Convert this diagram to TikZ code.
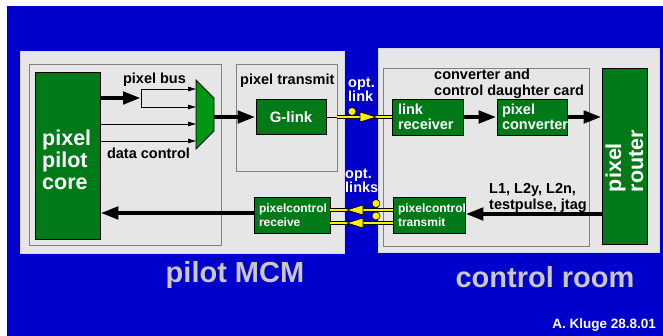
\documentclass[tikz,border=0pt]{standalone}
\usepackage{fontspec}
\setmainfont{Liberation Sans}
\usetikzlibrary{arrows.meta}
\definecolor{bgblue}{RGB}{0,0,204}
\definecolor{panelgrey}{RGB}{230,230,230}
\definecolor{panelrim}{RGB}{215,215,245}
\definecolor{boxgreen}{RGB}{0,122,25}
\definecolor{muxgreen}{RGB}{0,150,20}
\definecolor{linegrey}{RGB}{128,128,128}
\definecolor{titlegrey}{RGB}{200,200,200}
\definecolor{optyellow}{RGB}{255,240,0}
\begin{document}
\begin{tikzpicture}[x=1pt,y=-1pt,
  panel/.style={fill=panelgrey, draw=panelrim, line width=0.8pt},
  frame/.style={draw=linegrey, line width=0.8pt},
  gbox/.style={draw=black, fill=boxgreen, line width=0.8pt, inner sep=0pt},
  gtext/.style={text=white, font=\bfseries\fontsize{14.5}{15}\selectfont, align=left},
  stext/.style={text=white, font=\bfseries\fontsize{12}{13.5}\selectfont, align=left},
  bigtext/.style={text=white, font=\bfseries\fontsize{21.5}{22}\selectfont, align=left, inner sep=0pt},
  lbl/.style={text=black, font=\bfseries\fontsize{14.5}{15.5}\selectfont, align=left, inner sep=0pt},
  wlbl/.style={text=white, font=\bfseries\fontsize{14.5}{14.5}\selectfont, align=left, inner sep=0pt},
  title/.style={text=titlegrey, font=\bfseries\fontsize{29}{30}\selectfont, inner sep=0pt},
  bigarrow/.style={draw=black, line width=4.5pt, -{Triangle[length=18pt,width=12pt]}},
  smallarrow/.style={draw=black, line width=0.8pt, -{Triangle[length=8pt,width=4.5pt]}},
  thinline/.style={draw=black, line width=0.8pt},
  optline/.style={draw=black, line width=0.6pt, double=optyellow, double distance=2.6pt},
  opthead/.style={fill=optyellow, draw=black, line width=0.6pt},
]
\useasboundingbox (0,0) rectangle (663,336);
\fill[white] (0,0) rectangle (663,336);
\fill[bgblue] (7,6) rectangle (663,336);

% panels and frames
\path[panel] (20,51) rectangle (344,253);
\path[panel] (378,48) rectangle (659,252);
\path[frame] (29,64) rectangle (221,245);
\path[frame] (236,64) rectangle (337,171);
\path[frame] (383,68) rectangle (589,246);

% green boxes
\node[gbox, minimum width=65pt, minimum height=167pt] (core) at (67.5,155.5) {};
\node[bigtext, anchor=west] (coretext) at (42,160) {pixel\\pilot\\core};
\node[gbox, minimum width=70pt, minimum height=35pt] (glink) at (291,117)
  {\color{white}\bfseries\fontsize{15}{16}\selectfont G-link};
\node[gbox, minimum width=76pt, minimum height=36pt, text width=66pt, stext] (pcr) at (292,215)
  {pixelcontrol\\receive};
\node[gbox, minimum width=71pt, minimum height=36pt, text width=59pt, gtext] (lr) at (427.5,117)
  {link\\receiver};
\node[gbox, minimum width=70pt, minimum height=36pt, text width=60pt, gtext] (pc) at (532,117)
  {pixel\\converter};
\node[gbox, minimum width=72pt, minimum height=36pt, text width=62pt, stext] (pct) at (429,215)
  {pixelcontrol\\transmit};
\node[gbox, minimum width=45pt, minimum height=176pt] (router) at (624.5,156) {};
\node[bigtext, rotate=90] (routertext) at (624.5,161) {pixel\\router};

% multiplexer
\filldraw[fill=muxgreen, draw=black, line width=0.8pt]
  (196,80) -- (214,98) -- (214,131) -- (196,149) -- cycle;
\coordinate (muxin) at (196,115);
\coordinate (muxout) at (214,117);

% labels
\node[lbl] (busl) at (154.5,80) {pixel bus};
\node[lbl] (dcl) at (148.5,153) {data control};
\node[lbl, anchor=west] (ptl) at (240,81) {pixel transmit};
\node[lbl, anchor=west] (ccl) at (434,84) {converter and\\control daughter card};
\node[lbl, anchor=west] (trigl) at (489,198) {L1, L2y, L2n,\\testpulse, jtag};
\node[wlbl, anchor=west] (optl1) at (348,90) {opt.\\link};
\node[wlbl, anchor=west] (optl2) at (345,181) {opt.\\links};
\node[title] (mcm) at (235,275) {pilot MCM};
\node[title] (room) at (545,277) {control room};
\node[text=white, font=\bfseries\fontsize{13.5}{14}\selectfont, inner sep=0pt, anchor=east] (author) at (656,325) {A. Kluge 28.8.01};

% pixel bus and data control
\coordinate (fork) at (141,98);
\coordinate (forkA) at (141,89);
\coordinate (forkB) at (141,107);
\coordinate (dcA) at (100,124);
\coordinate (dcB) at (100,141);
\draw[bigarrow] (core.east |- fork) -- (fork);
\draw[thinline] (forkA) -- (forkB);
\draw[smallarrow] (forkA) -- (forkA -| muxin);
\draw[smallarrow] (forkB) -- (forkB -| muxin);
\draw[smallarrow] (dcA) -- (dcA -| muxin);
\draw[smallarrow] (dcB) -- (dcB -| muxin);

% data path
\draw[bigarrow] (muxout) -- (muxout -| glink.west);
\coordinate (optA) at (337,117);
\draw[thinline] (glink.east) -- (optA);
\draw[optline] (optA) -- (lr.west |- optA);
\filldraw[opthead] (360,112) -- (376,117) -- (360,122) -- cycle;
\filldraw[opthead] (352,111.5) circle (4pt);
\draw[bigarrow] (lr.east) -- (pc.west);
\draw[bigarrow] (pc.east) -- (pc.east -| router.west);

% control path
\coordinate (ctlA) at (0,214);
\coordinate (ctlB) at (0,213);
\draw[bigarrow] (router.west |- ctlA) -- (pct.east |- ctlA);
\draw[bigarrow] (pcr.west |- ctlB) -- (core.east |- ctlB);
\coordinate (y1) at (0,210);
\coordinate (y2) at (0,223);
\draw[optline] (pct.west |- y1) -- (pcr.east |- y1);
\draw[optline] (pct.west |- y2) -- (pcr.east |- y2);
\filldraw[opthead] (363,205) -- (347,210) -- (363,215) -- cycle;
\filldraw[opthead] (363,218) -- (347,223) -- (363,228) -- cycle;
\filldraw[opthead] (376,203.5) circle (4pt);
\filldraw[opthead] (376,216) circle (4pt);
\end{tikzpicture}
\end{document}
